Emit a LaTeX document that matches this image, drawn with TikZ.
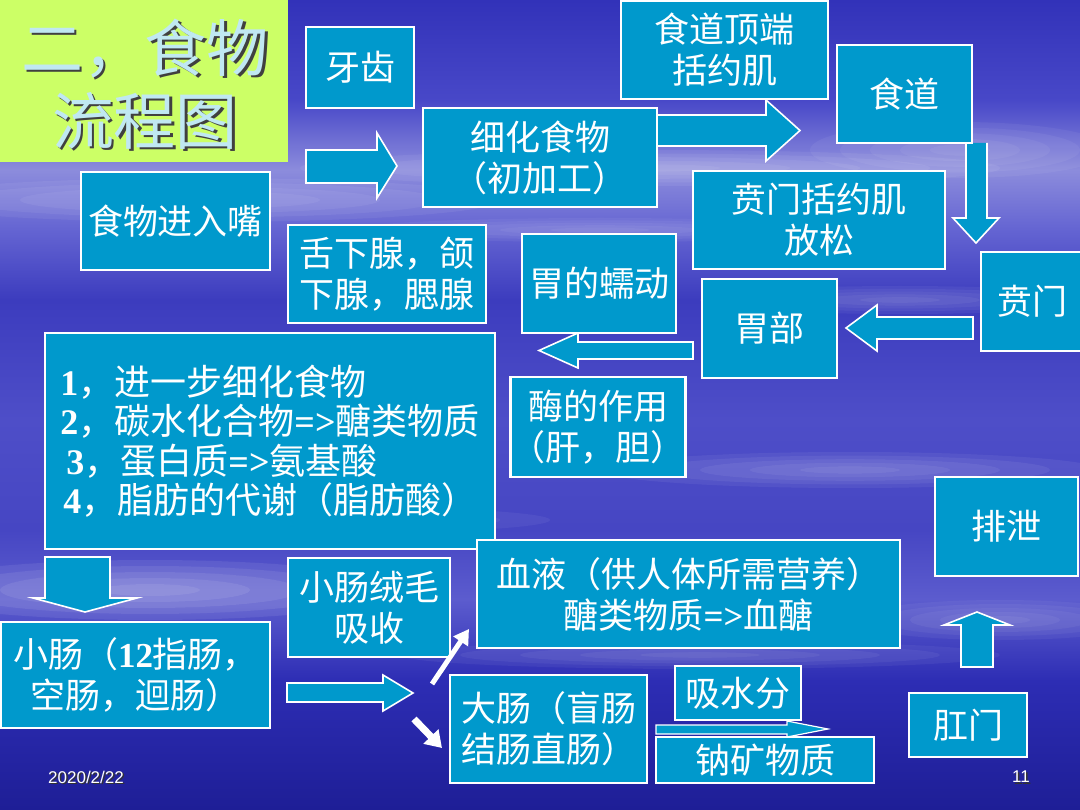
\documentclass[tikz,border=0pt]{standalone}
\usepackage{fontspec}
\setmainfont{Noto Sans CJK SC}
\newfontfamily\lat{Liberation Serif}
\newfontfamily\arial{Liberation Sans}
\usetikzlibrary{arrows.meta}
\definecolor{boxblue}{RGB}{0,153,204}
\definecolor{titlebg}{RGB}{204,255,102}
\definecolor{titletxt}{RGB}{192,232,242}
\definecolor{bgA}{RGB}{30,30,150}
\definecolor{bgB}{RGB}{45,45,180}
\definecolor{bgC}{RGB}{92,92,206}
\definecolor{bgD}{RGB}{70,70,195}
\definecolor{bgE}{RGB}{78,78,200}
\definecolor{bgF}{RGB}{60,60,190}
\definecolor{bgG}{RGB}{100,100,210}
\definecolor{bgH}{RGB}{140,140,220}
\definecolor{bgI}{RGB}{72,72,200}
\definecolor{bgJ}{RGB}{50,50,185}
\pgfdeclareverticalshading{slidebg}{100bp}{color(0bp)=(bgA); color(25bp)=(bgA); color(33bp)=(bgB); color(38bp)=(bgC); color(42.3bp)=(bgD); color(49.1bp)=(bgE); color(56.5bp)=(bgF); color(60.8bp)=(bgG); color(64.5bp)=(bgH); color(68.8bp)=(bgI); color(75bp)=(bgJ); color(100bp)=(bgJ)}
\newcommand\num[1]{{\lat\bfseries #1}}
\newcommand\streak[5]{\foreach \k in {1,...,5}{\fill[white,opacity=#5] (#1,#2) ellipse ({#3*\k/5} and {#4*\k/5});}}
\tikzset{
  box/.style={draw=white, line width=2.2pt, fill=boxblue, text=white, inner sep=0pt, align=center,
    font=\fontsize{35}{41}\selectfont},
  barrow/.style={draw=white, line width=1.6pt, fill=boxblue, line join=miter},
  warrow/.style={draw=white, line cap=butt},
  titlefont/.style={font=\fontsize{62}{73}\selectfont, align=center, inner sep=0pt},
  foot/.style={font=\arial\fontsize{17}{20}\selectfont, inner sep=0pt}
}
\begin{document}
\begin{tikzpicture}[x=1pt,y=-1pt]
\useasboundingbox (0,0) rectangle (1080,810);
% background
\shade[shading=slidebg] (0,0) rectangle (1080,810);
\begin{scope}
\clip (0,0) rectangle (1080,810);
\streak{200}{200}{300}{22}{0.06}
\streak{650}{168}{350}{18}{0.06}
\streak{960}{150}{150}{28}{0.05}
\streak{900}{300}{200}{14}{0.05}
\streak{850}{470}{250}{18}{0.06}
\streak{150}{590}{250}{30}{0.08}
\streak{700}{655}{300}{14}{0.05}
\streak{300}{520}{250}{14}{0.05}
\streak{1000}{620}{150}{20}{0.05}
\streak{600}{230}{250}{12}{0.05}
\end{scope}
% title
\fill[titlebg] (0,0) rectangle (288,162);
\node[titlefont, text=black!75] (titleshadow) at (147.5,86.5) {二，食物\\流程图};
\node[titlefont, text=titletxt] (title) at (145,84) {二，食物\\流程图};
% block arrows
\draw[barrow] (306,150) -- (377,150) -- (377,133) -- (397,166) -- (377,198) -- (377,183) -- (306,183) -- cycle;
\draw[barrow] (655,115) -- (766,115) -- (766,100) -- (800,130.5) -- (766,161) -- (766,146) -- (655,146) -- cycle;
\draw[barrow] (966,143) -- (966,218) -- (953,218) -- (976,243) -- (999,218) -- (987,218) -- (987,143);
\draw[barrow] (973,317) -- (877,317) -- (877,305) -- (846,328) -- (877,351) -- (877,339) -- (973,339) -- cycle;
\draw[barrow] (693,342) -- (578,342) -- (578,333) -- (539,350.5) -- (578,368) -- (578,359) -- (693,359) -- cycle;
\draw[barrow] (45,557) -- (45,598) -- (33,598) -- (85,612) -- (137,598) -- (110,598) -- (110,557) -- cycle;
\draw[barrow] (287,683) -- (383,683) -- (383,675) -- (413,693) -- (383,711) -- (383,702) -- (287,702) -- cycle;
\draw[barrow] (961,667) -- (961,625) -- (944,625) -- (977,612) -- (1010,625) -- (993,625) -- (993,667) -- cycle;
\draw[barrow, line width=1.2pt] (656,725) -- (787,725) -- (787,721) -- (828,729) -- (787,737) -- (787,734) -- (656,734) -- cycle;
% boxes
\node[box, minimum width=108, minimum height=81] (yachi) at (360,67.5) {牙齿};
\node[box, minimum width=207, minimum height=98] (sdtd) at (724.5,50) {食道顶端\\括约肌};
\node[box, minimum width=135, minimum height=98] (shidao) at (904.5,94) {食道};
\node[box, minimum width=234, minimum height=99] (xihua) at (540,157.5) {细化食物\\（初加工）};
\node[box, minimum width=189, minimum height=98] (jinru) at (175.5,221) {食物进入嘴};
\node[box, minimum width=252, minimum height=98] (bmkyj) at (819,220) {贲门括约肌\\放松};
\node[box, minimum width=198, minimum height=98] (shexia) at (387,274) {舌下腺，颌\\下腺，腮腺};
\node[box, minimum width=154, minimum height=99] (wrd) at (599,283.5) {胃的蠕动};
\node[box, minimum width=135, minimum height=99] (weibu) at (769.5,328.5) {胃部};
\node[box, minimum width=102, minimum height=99] (benmen) at (1032,301.5) {贲门};
\node[box, minimum width=450, minimum height=216, align=left, font=\fontsize{36}{39.5}\selectfont] (big) at (270,441)
  {\num{1}，进一步细化食物\\\num{2}，碳水化合物\num{=>}醣类物质\\\hspace*{6pt}\num{3}，蛋白质\num{=>}氨基酸\\\hspace*{3pt}\num{4}，脂肪的代谢（脂肪酸）};
\node[box, minimum width=172, minimum height=100] (mei) at (598,427) {酶的作用\\（肝，胆）};
\node[box, minimum width=143, minimum height=99] (paixie) at (1006.5,526.5) {排泄};
\node[box, minimum width=162, minimum height=99] (xcrm) at (369,607.5) {小肠绒毛\\吸收};
\node[box, minimum width=423, minimum height=108] (xueye) at (688.5,594) {血液（供人体所需营养）\\醣类物质\num{=>}血醣};
\node[box, minimum width=269, minimum height=106] (xiaochang) at (135.5,675) {小肠（\num{12}指肠，\\空肠，迴肠）};
\node[box, minimum width=197, minimum height=108, align=left] (dachang) at (548.5,729) {大肠（盲肠\\结肠直肠）};
\node[box, minimum width=126, minimum height=54] (xishui) at (738,693) {吸水分};
\node[box, minimum width=218, minimum height=46] (na) at (765,760) {钠矿物质};
\node[box, minimum width=118, minimum height=64] (gangmen) at (968,725) {肛门};
% white arrows
\coordinate (ua1) at (432,684);
\coordinate (ua2) at (469,629);
\coordinate (da1) at (414,719);
\coordinate (da2) at (442,748);
\draw[warrow, line width=5pt, -{Triangle[length=15pt,width=17pt]}] (ua1) -- (ua2);
\draw[warrow, line width=7pt, -{Triangle[length=16pt,width=20pt]}] (da1) -- (da2);
% footer
\node[foot, text=black!80, anchor=west] (dateshadow) at (49.5,778.5) {2020/2/22};
\node[foot, text=white, anchor=west] (date) at (48,777) {2020/2/22};
\node[foot, text=black!80] (pageshadow) at (1022.5,778.5) {11};
\node[foot, text=white] (page) at (1021,777) {11};
\end{tikzpicture}
\end{document}
